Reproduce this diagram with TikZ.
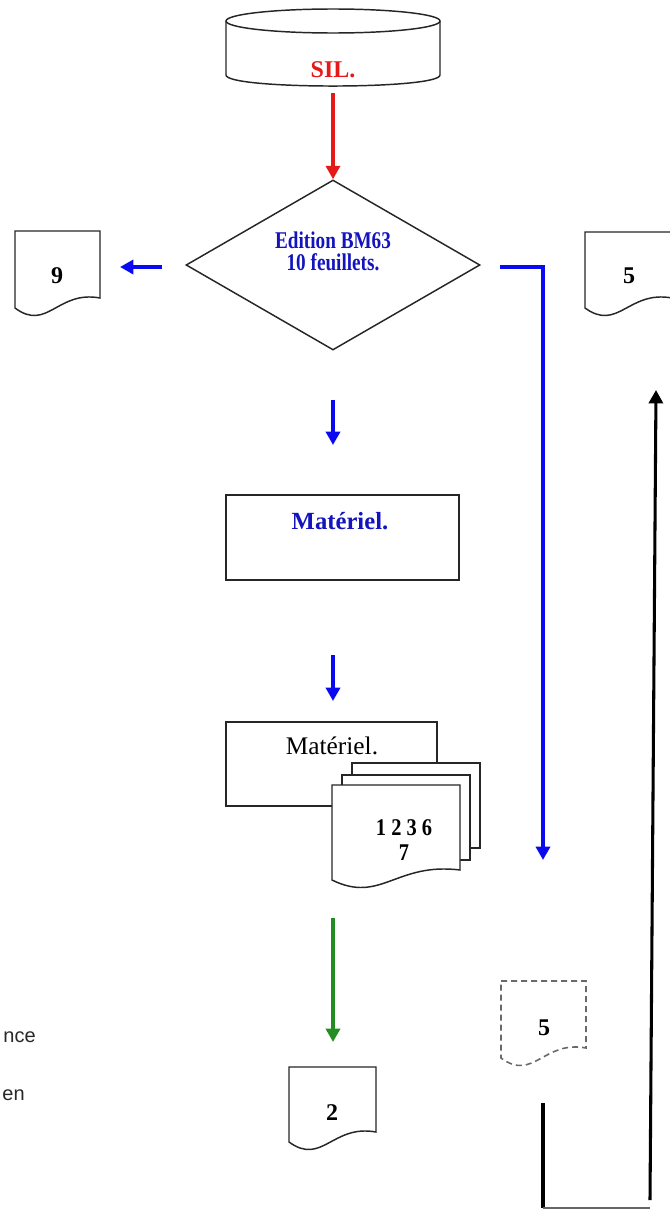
\documentclass[tikz,border=0pt]{standalone}
\usepackage{fontspec}
\setmainfont{Liberation Serif}
\newfontfamily\labelsans{Liberation Sans}
\usetikzlibrary{arrows.meta,shapes.geometric}

% one drawing unit of the picture
\newcommand\upx{0.75pt}
% document symbol: style, left, top, right, bottom (left end of the wavy edge)
\newcommand\docshape[5]{%
  \draw[#1] (#2,#3) -- (#4,#3) -- (#4,{#5-10})
    .. controls ({0.5*(#2+#4)},{#5-18}) and ({0.62*#2+0.38*#4},{#5+24}) .. (#2,#5) -- cycle;}

\definecolor{flowblue}{RGB}{10,10,240}
\definecolor{textblue}{RGB}{20,20,190}
\definecolor{flowred}{RGB}{230,25,25}
\definecolor{flowgreen}{RGB}{35,140,35}
\definecolor{dashgray}{RGB}{105,105,105}
\definecolor{sidegray}{RGB}{40,40,40}

\tikzset{
  outline/.style={draw=black!85, line width=1.1pt, fill=white},
  box/.style={outline, rectangle, inner sep=0pt},
  tip/.style={-{Triangle[length=10pt,width=10.5pt]}},
  bluearrow/.style={tip, draw=flowblue, line width=2.6pt},
  redarrow/.style={tip, draw=flowred, line width=2.3pt},
  greenarrow/.style={tip, draw=flowgreen, line width=2.6pt},
  blackarrow/.style={tip, draw=black, line width=2.3pt},
  num/.style={font=\bfseries\fontsize{18}{21}\selectfont, inner sep=0pt},
  bluebold/.style={text=textblue, font=\bfseries\fontsize{18.5}{21}\selectfont, inner sep=0pt},
  plainlabel/.style={font=\fontsize{19}{22}\selectfont, inner sep=0pt},
  sidelabel/.style={text=sidegray, font=\labelsans\fontsize{15}{18}\selectfont, inner sep=0pt}
}

\begin{document}
\begin{tikzpicture}[x=0.75pt,y=-0.75pt]
\useasboundingbox (0,0) rectangle (670,1210);

% storage cylinder SIL.
\draw[outline] (226,21) -- (226,75) .. controls (226,89.7) and (440,89.7) .. (440,75) -- (440,21);
\draw[outline] (333,21) ellipse [x radius=107, y radius=12];
\node[text=flowred, font=\bfseries\fontsize{18}{21}\selectfont, inner sep=0pt] (sil) at (333,70) {SIL.};
\coordinate (silbot) at (333,93);

% decision
\node[diamond, draw=black!85, line width=1.1pt, minimum width=294*\upx, minimum height=170*\upx, inner sep=0pt] (dia) at (333,265) {};
\node[text=textblue, font=\bfseries\fontsize{18}{16.5}\selectfont, align=center, inner sep=0pt] (diat) at (333,251)
  {\scalebox{0.8}[1]{Edition BM63}\\\scalebox{0.8}[1]{10 feuillets.}};

% side documents 9 and 5
\docshape{outline}{15}{231}{100}{308}
\node[num] (d9) at (57,276) {9};
\docshape{outline}{585}{232}{672}{308}
\node[num] (d5) at (629,276) {5};

% process Matériel.
\node[box, minimum width=233*\upx, minimum height=85*\upx] (mat1) at (342.5,537.5) {};
\node[bluebold] (mat1t) at (340,521) {Matériel.};

% Matériel. with its document stack
\node[box, minimum width=211*\upx, minimum height=84*\upx] (mat2) at (331.5,764) {};
\node[plainlabel] (mat2t) at (332,746) {Matériel.};
\draw[outline] (352,763) rectangle (480,848);
\draw[outline] (342,775) rectangle (470,860);
\docshape{outline}{332}{785}{460}{880}
\node[num, align=center, font=\bfseries\fontsize{18}{18.75}\selectfont] (stackt) at (404,840)
  {\scalebox{0.85}[1]{1 2 3 6}\\\scalebox{0.85}[1]{7}};

% document 2 and dashed document 5
\docshape{outline}{289}{1067}{376}{1142}
\node[num] (d2) at (332,1113) {2};
\docshape{draw=dashgray, line width=1.2pt, dash pattern=on 4.5pt off 3pt}{501}{981}{586}{1058}
\node[num] (d5b) at (544,1028) {5};

% side labels
\node[sidelabel, anchor=base east] (lab1) at (36,1042) {nce};
\node[sidelabel, anchor=base east] (lab2) at (25,1100) {en};

% connector ends
\coordinate (a1s) at (162,267);
\coordinate (a1e) at (120,267);
\coordinate (b1s) at (500,267);
\coordinate (b1e) at (543,860);
\coordinate (c1s) at (333,400);
\coordinate (c1e) at (333,445);
\coordinate (c2s) at (333,655);
\coordinate (c2e) at (333,701);
\coordinate (g1s) at (333,918);
\coordinate (g1e) at (333,1042);
\coordinate (k1) at (543,1103);
\coordinate (k2) at (543,1208);
\coordinate (k3) at (650,1208);
\coordinate (k4) at (650,1200);
\coordinate (k5) at (656,390);

% connectors
\draw[redarrow] (silbot) -- (dia.north);
\draw[bluearrow] (a1s) -- (a1e);
\draw[bluearrow] (b1s) -| (b1e);
\draw[bluearrow] (c1s) -- (c1e);
\draw[bluearrow] (c2s) -- (c2e);
\draw[greenarrow] (g1s) -- (g1e);
\draw[black, line width=2.3pt] (k1) -- (k2);
\draw[black!60, line width=1.2pt] (k2) -- (k3);
\draw[blackarrow] (k4) -- (k5);
\end{tikzpicture}
\end{document}
